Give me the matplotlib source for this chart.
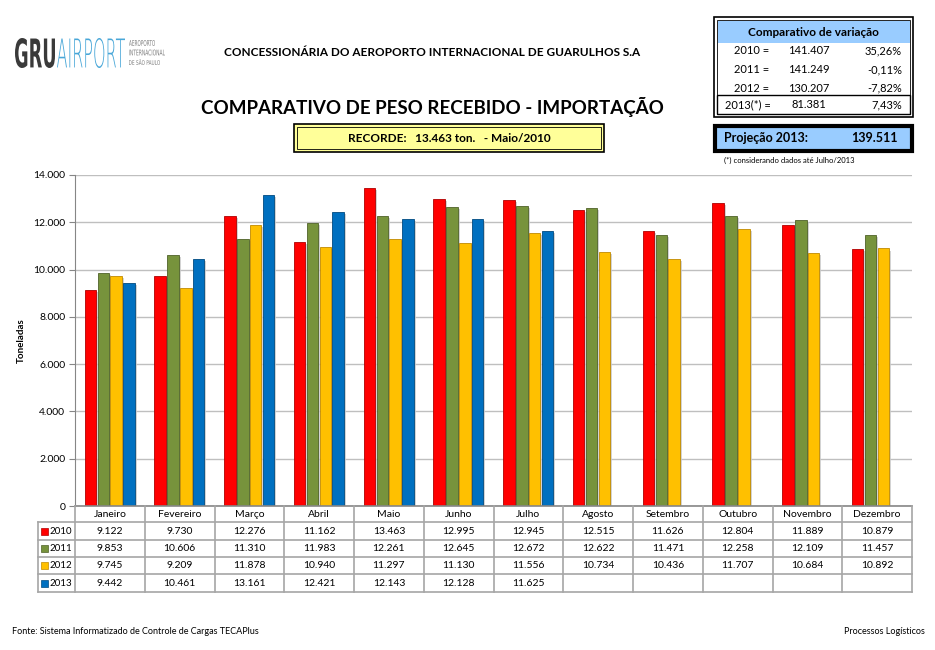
import numpy as np
import matplotlib
matplotlib.use("Agg")
import matplotlib.pyplot as plt
from matplotlib.patches import Rectangle, PathPatch
from matplotlib.textpath import TextPath
from matplotlib.font_manager import FontProperties
from matplotlib.transforms import Affine2D
import matplotlib.patheffects as pe

plt.rcParams['font.family'] = ['Lato', 'DejaVu Sans']

meses = ['Janeiro', 'Fevereiro', 'Março', 'Abril', 'Maio', 'Junho', 'Julho',
         'Agosto', 'Setembro', 'Outubro', 'Novembro', 'Dezembro']
anos = ['2010', '2011', '2012', '2013']
v2010 = [9122, 9730, 12276, 11162, 13463, 12995, 12945, 12515, 11626, 12804, 11889, 10879]
v2011 = [9853, 10606, 11310, 11983, 12261, 12645, 12672, 12622, 11471, 12258, 12109, 11457]
v2012 = [9745, 9209, 11878, 10940, 11297, 11130, 11556, 10734, 10436, 11707, 10684, 10892]
v2013 = [9442, 10461, 13161, 12421, 12143, 12128, 11625]
cores = ['#FF0000', '#77933C', '#FFC000', '#0070C0']
bordas = ['#B00000', '#4F6228', '#C08A00', '#004A80']

resumo_anos = ['2010 =', '2011 =', '2012 =']
resumo_tot = ['141.407', '141.249', '130.207']
resumo_var = ['35,26%', '-0,11%', '-7,82%']
tot_2013 = '81.381'
var_2013 = '7,43%'
projecao = '139.511'

W, H = 935, 650
fig = plt.figure(figsize=(W / 100, H / 100), dpi=100)

def fmt(v):
    return f"{v:,}".replace(",", ".")

# grafico
ax = fig.add_axes([75 / W, 1 - 506 / H, 837 / W, 331 / H])
series = [v2010, v2011, v2012, v2013]
offs = [-0.278, -0.093, 0.09, 0.272]
sombra = [pe.SimplePatchShadow(offset=(1.5, -1.5), shadow_rgbFace='#C8C8C8', alpha=0.8), pe.Normal()]
for k, s in enumerate(series):
    x = np.arange(len(s))
    ax.bar(x + offs[k], s, width=0.165, color=cores[k], edgecolor=bordas[k],
           linewidth=0.6, zorder=3, path_effects=sombra)
ax.set_xlim(-0.5, 11.5)
ax.set_ylim(0, 14000)
ax.set_yticks(np.arange(0, 14001, 2000))
ax.set_yticklabels([fmt(t) for t in np.arange(0, 14001, 2000)], fontsize=7.5)
ax.set_xticks([])
ax.grid(axis='y', color='#BFBFBF', linewidth=1, zorder=0)
for s in ['top', 'right', 'bottom']:
    ax.spines[s].set_visible(False)
ax.spines['left'].set_color('#868686')
ax.tick_params(axis='y', length=4, color='#868686', pad=3)
ax.set_ylabel('Toneladas', fontsize=7, fontweight='bold', labelpad=5)

# camada de texto e tabela em coordenadas de pixel
ov = fig.add_axes([0, 0, 1, 1], facecolor='none')
ov.set_xlim(0, W)
ov.set_ylim(H, 0)
ov.axis('off')

def caixa_texto(txt, x0, y0, x1, y1, cor, peso='normal', fam='DejaVu Sans'):
    # texto esticado para caber na caixa (x0,y0)-(x1,y1), em pixels
    tp = TextPath((0, 0), txt, size=1, prop=FontProperties(family=fam, weight=peso))
    ext = tp.get_extents()
    sx = (x1 - x0) / ext.width
    sy = (y1 - y0) / ext.height
    tr = Affine2D().translate(-ext.x0, -ext.y0).scale(sx, -sy).translate(x0, y1)
    ov.add_patch(PathPatch(tr.transform_path(tp), facecolor=cor, edgecolor='none'))

gx0, gw = 75, 837 / 12
lc = '#A6A6A6'
rows_y = [506, 522, 540, 557, 574, 592]
# linhas da tabela
ov.plot([gx0, gx0 + 12 * gw], [506, 506], color='#868686', lw=1.2)
for yy in rows_y[1:]:
    ov.plot([38, gx0 + 12 * gw], [yy, yy], color=lc, lw=1.2)
for i in range(13):
    xx = gx0 + i * gw
    ov.plot([xx, xx], [506, 592], color=lc, lw=1.2)
ov.plot([38, 38], [522, 592], color=lc, lw=1.2)
for i, m in enumerate(meses):
    ov.text(gx0 + (i + 0.5) * gw, 514.5, m, ha='center', va='center', fontsize=7.5)
for r, s in enumerate(series):
    yc = (rows_y[r + 1] + rows_y[r + 2]) / 2
    ov.add_patch(Rectangle((41, yc - 3.5), 7, 7, facecolor=cores[r], edgecolor=bordas[r], lw=0.5))
    ov.text(50, yc, anos[r], ha='left', va='center', fontsize=7)
    for i, v in enumerate(s):
        ov.text(gx0 + (i + 0.5) * gw, yc, fmt(v), ha='center', va='center', fontsize=7.5)

# logo
caixa_texto('GRU', 15, 38, 55, 68, '#3A3A3A', peso='bold')
caixa_texto('AIRPORT', 57, 38, 125, 68, '#49A7D8', peso='light')
for j, linha in enumerate(['AEROPORTO', 'INTERNACIONAL', 'DE SÃO PAULO']):
    larg = [26, 36, 31][j]
    caixa_texto(linha, 129, 40 + j * 9.5, 129 + larg, 46 + j * 9.5, '#808080')

ov.text(432, 52, 'CONCESSIONÁRIA DO AEROPORTO INTERNACIONAL DE GUARULHOS S.A',
        fontsize=8.5, fontweight='bold', ha='center', va='center')
ov.text(432, 107, 'COMPARATIVO DE PESO RECEBIDO - IMPORTAÇÃO',
        fontsize=13.5, fontweight='bold', ha='center', va='center')

# recorde
ov.add_patch(Rectangle((294, 124), 310, 28, facecolor='#FFFF99', edgecolor='black', lw=1.2))
ov.add_patch(Rectangle((297, 127), 304, 22, facecolor='none', edgecolor='black', lw=0.6))
ov.text(449, 138, 'RECORDE:   13.463 ton.   - Maio/2010', fontsize=8.5, fontweight='bold',
        ha='center', va='center')

# comparativo de variacao
ov.add_patch(Rectangle((714, 17), 199, 100, facecolor='white', edgecolor='black', lw=1.2))
ov.add_patch(Rectangle((717, 20), 193, 94, facecolor='none', edgecolor='black', lw=0.6))
ov.add_patch(Rectangle((717.5, 20.5), 192, 22, facecolor='#99CCFF', edgecolor='none'))
ov.add_patch(Rectangle((717, 95), 193, 19, facecolor='none', edgecolor='black', lw=1.0))
ov.text(813, 32, 'Comparativo de variação', fontsize=8.5, fontweight='bold', ha='center', va='center')
for i in range(3):
    yy = 51 + i * 18.5
    ov.text(752, yy, resumo_anos[i], fontsize=8, ha='center', va='center')
    ov.text(809, yy, resumo_tot[i], fontsize=8, ha='center', va='center')
    ov.text(902, yy, resumo_var[i], fontsize=8, ha='right', va='center')
ov.text(748, 105, '2013(*) =', fontsize=8, ha='center', va='center')
ov.text(809, 105, tot_2013, fontsize=8, ha='center', va='center')
ov.text(902, 105, var_2013, fontsize=8, ha='right', va='center')

ov.add_patch(Rectangle((715, 126), 197, 25, facecolor='#99CCFF', edgecolor='black', lw=3))
ov.text(724, 138.5, 'Projeção 2013:', fontsize=9, fontweight='bold', ha='left', va='center')
ov.text(898, 138.5, projecao, fontsize=9, fontweight='bold', ha='right', va='center')
ov.text(724, 160, '(*) considerando dados até Julho/2013', fontsize=5.5, ha='left', va='center')

# rodape
ov.text(12, 632, 'Fonte: Sistema Informatizado de Controle de Cargas TECAPlus', fontsize=6.5,
        ha='left', va='center')
ov.text(925, 632, 'Processos Logísticos', fontsize=6.5, ha='right', va='center')

fig.savefig('out.png', dpi=100, facecolor='white')
